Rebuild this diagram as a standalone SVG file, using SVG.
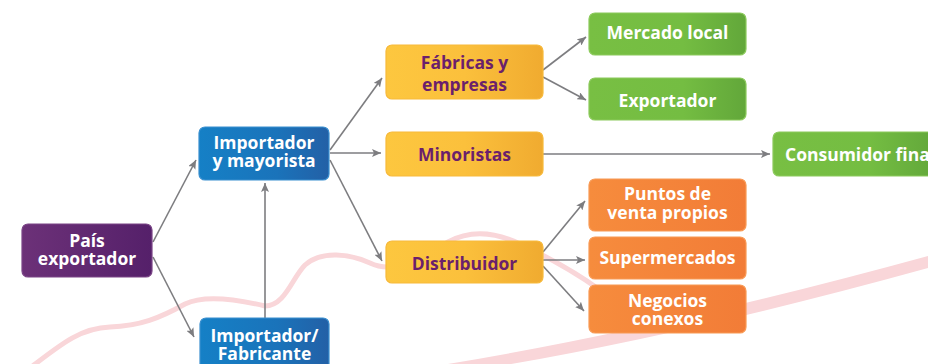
<svg xmlns="http://www.w3.org/2000/svg" width="928" height="364" viewBox="0 0 928 364">
<defs>
<linearGradient id="gPurple" x1="0" y1="0" x2="1" y2="0"><stop offset="0" stop-color="#6c3178"/><stop offset="1" stop-color="#55206a"/></linearGradient>
<linearGradient id="gBlue" x1="0" y1="0" x2="1" y2="0"><stop offset="0" stop-color="#1580c6"/><stop offset="0.6" stop-color="#1a73ba"/><stop offset="1" stop-color="#2360a6"/></linearGradient>
<linearGradient id="gYellow" x1="0" y1="0" x2="1" y2="0"><stop offset="0" stop-color="#fdc73f"/><stop offset="0.5" stop-color="#fbc03c"/><stop offset="1" stop-color="#f0ab30"/></linearGradient>
<linearGradient id="gGreen" x1="0" y1="0" x2="1" y2="0"><stop offset="0" stop-color="#78bf43"/><stop offset="0.6" stop-color="#74bd42"/><stop offset="1" stop-color="#62a73a"/></linearGradient>
<linearGradient id="gOrange" x1="0" y1="0" x2="1" y2="0"><stop offset="0" stop-color="#f68c3d"/><stop offset="1" stop-color="#f27c37"/></linearGradient>
<marker id="arr" markerWidth="10" markerHeight="8" refX="9" refY="4" orient="auto" markerUnits="userSpaceOnUse"><path d="M0,0 L9,4 L0,8 L2,4 Z" fill="#7d7d80"/></marker>
</defs>
<style>
.box{stroke-width:1.2}
.purple{fill:url(#gPurple);stroke:#7a4486}
.blue{fill:url(#gBlue);stroke:#3a8fcf}
.yellow{fill:url(#gYellow);stroke:#f7b93a}
.green{fill:url(#gGreen);stroke:#8cca5c}
.orange{fill:url(#gOrange);stroke:#f89a55}
text{font-family:"Open Sans","Liberation Sans",sans-serif;font-weight:700;font-size:17.5px;text-anchor:middle}
.w{fill:#ffffff}
.p{fill:#6b1f6c}
.conn line{stroke:#7d7d80;stroke-width:1.6;marker-end:url(#arr)}
.bg{fill:none;stroke:#f9d6d9;stroke-width:5;stroke-linecap:round}
</style>
<g id="background">
<path d="M410 370 Q640 335 928 256 L928 268 Q660 342 450 374 Z" fill="#f9d6d9"/>
<path class="bg" d="M30 368 C60 345 80 328 110 327 C140 326 160 318 185 304 C205 294 240 300 265 306 C285 306 292 278 305 265 C322 250 350 254 370 263 C395 275 420 258 448 242 C470 230 495 232 520 244 C550 258 575 272 600 290 C630 310 660 318 690 318"/>
</g>
<g id="connectors" class="conn">
<line x1="153" y1="242" x2="196" y2="160"/>
<line x1="153" y1="257" x2="194" y2="337"/>
<line x1="265" y1="318" x2="265" y2="183"/>
<line x1="330" y1="150" x2="382" y2="78"/>
<line x1="330" y1="153" x2="381" y2="153"/>
<line x1="330" y1="160" x2="382" y2="261"/>
<line x1="543" y1="70" x2="586" y2="37"/>
<line x1="543" y1="77" x2="586" y2="100"/>
<line x1="543" y1="154" x2="770" y2="154"/>
<line x1="543" y1="252" x2="585" y2="201"/>
<line x1="543" y1="260" x2="585" y2="260"/>
<line x1="543" y1="266" x2="584" y2="311"/>
</g>
<g id="pais-exportador"><rect class="box purple" x="22" y="224" width="130" height="53" rx="6"/><text class="w" x="87" y="246.5">País</text><text class="w" x="87" y="265">exportador</text></g>
<g id="importador-mayorista"><rect class="box blue" x="199" y="127" width="130" height="53" rx="6"/><text class="w" x="264" y="149">Importador</text><text class="w" x="264" y="166.5">y mayorista</text></g>
<g id="importador-fabricante"><rect class="box blue" x="200" y="318" width="129" height="56" rx="6"/><text class="w" x="264.5" y="341.5">Importador/</text><text class="w" x="264.5" y="359.5">Fabricante</text></g>
<g id="fabricas-empresas"><rect class="box yellow" x="386" y="45" width="157" height="54" rx="6"/><text class="p" x="464.5" y="69">Fábricas y</text><text class="p" x="464.5" y="91">empresas</text></g>
<g id="minoristas"><rect class="box yellow" x="386" y="132" width="157" height="44" rx="6"/><text class="p" x="464.5" y="161">Minoristas</text></g>
<g id="distribuidor"><rect class="box yellow" x="386" y="241" width="157" height="42" rx="6"/><text class="p" x="464.5" y="269.5">Distribuidor</text></g>
<g id="mercado-local"><rect class="box green" x="589" y="13" width="157" height="42" rx="6"/><text class="w" x="667.5" y="39">Mercado local</text></g>
<g id="exportador"><rect class="box green" x="589" y="78" width="157" height="42" rx="6"/><text class="w" x="667.5" y="106.5">Exportador</text></g>
<g id="consumidor-final"><rect class="box green" x="773" y="132" width="162" height="44" rx="6"/><text class="w" x="785" y="161" style="text-anchor:start">Consumidor final</text></g>
<g id="puntos-venta"><rect class="box orange" x="589" y="179" width="157" height="52" rx="6"/><text class="w" x="667.5" y="200">Puntos de</text><text class="w" x="667.5" y="218.5">venta propios</text></g>
<g id="supermercados"><rect class="box orange" x="589" y="237" width="157" height="42" rx="6"/><text class="w" x="667.5" y="263.5">Supermercados</text></g>
<g id="negocios-conexos"><rect class="box orange" x="589" y="285" width="157" height="48" rx="6"/><text class="w" x="667.5" y="306.5">Negocios</text><text class="w" x="667.5" y="325">conexos</text></g>
</svg>
